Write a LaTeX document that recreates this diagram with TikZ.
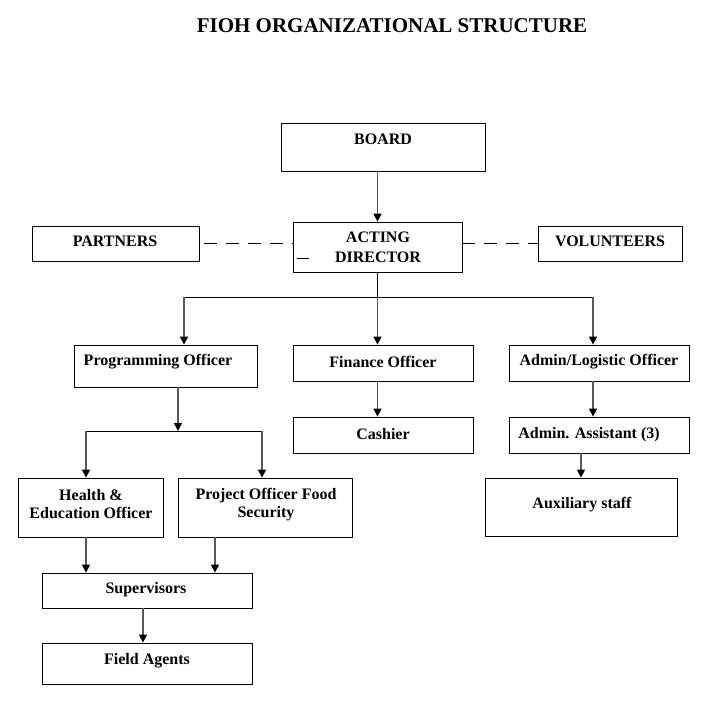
\documentclass[tikz,border=0pt]{standalone}
\usepackage{fontspec}
\setmainfont{Liberation Serif}
\usetikzlibrary{arrows.meta}
\tikzset{
  box/.style={draw, line width=0.8pt, inner sep=0pt},
  txt/.style={font=\bfseries\fontsize{16}{18}\selectfont, align=center, inner sep=0pt, yshift=-1.5pt},
  heading/.style={font=\bfseries\fontsize{21}{24}\selectfont, inner sep=0pt},
  wire/.style={line width=0.8pt},
  link/.style={draw=black!65, line width=1.5pt, -{Triangle[length=8pt,width=8pt,color=black]}},
  dashlink/.style={line width=0.8pt, dash pattern=on 13pt off 9pt}
}
\begin{document}
\begin{tikzpicture}[x=1pt,y=-1pt]
  \useasboundingbox (0,0) rectangle (718,704);
  \node[heading] (title) at (392,26) {FIOH ORGANIZATIONAL STRUCTURE};
  % boxes
  \node[box, minimum width=204, minimum height=48] (board) at (383,147) {};
  \node[box, minimum width=169, minimum height=50] (director) at (377.5,247) {};
  \node[box, minimum width=167, minimum height=35] (partners) at (115.5,243.5) {};
  \node[box, minimum width=144, minimum height=35] (volunteers) at (610,243.5) {};
  \node[box, minimum width=183, minimum height=42] (prog) at (165.5,366) {};
  \node[box, minimum width=180, minimum height=36] (finance) at (383,363) {};
  \node[box, minimum width=180, minimum height=36] (admin) at (599,363) {};
  \node[box, minimum width=180, minimum height=36] (cashier) at (383,435) {};
  \node[box, minimum width=180, minimum height=36] (assistant) at (599,435) {};
  \node[box, minimum width=192, minimum height=58] (auxiliary) at (581,507) {};
  \node[box, minimum width=145, minimum height=59] (health) at (90.5,507.5) {};
  \node[box, minimum width=174, minimum height=59] (project) at (265,507.5) {};
  \node[box, minimum width=210, minimum height=35] (supervisors) at (147,590.5) {};
  \node[box, minimum width=210, minimum height=41] (field) at (147,663.5) {};
  % texts
  \node[txt] (t-board) at (383,138) {BOARD};
  \node[txt] (t-director) at (378,246) {ACTING\\[2pt]DIRECTOR};
  \node[txt] (t-partners) at (115,240) {PARTNERS};
  \node[txt] (t-volunteers) at (610,240) {VOLUNTEERS};
  \node[txt] (t-prog) at (158,360) {Programming Officer};
  \node[txt] (t-finance) at (383,360) {Finance Officer};
  \node[txt] (t-admin) at (599,360) {Admin/Logistic Officer};
  \node[txt] (t-cashier) at (383,433) {Cashier};
  \node[txt] (t-assistant) at (589,433) {Admin. Assistant (3)};
  \node[txt] (t-auxiliary) at (582,503) {Auxiliary staff};
  \node[txt] (t-health) at (91,503) {Health \&\\Education Officer};
  \node[txt] (t-project) at (266,503) {Project Officer Food\\Security};
  \node[txt] (t-supervisors) at (146,588) {Supervisors};
  \node[txt] (t-field) at (147,659) {Field Agents};
  \draw[wire] ([shift={(4,11)}]director.west) -- ++(12,0);
  % branch points
  \coordinate (bus) at (377.5,297);
  \coordinate (busL) at (184,297);
  \coordinate (busR) at (593,297);
  \coordinate (split) at (178,431);
  \coordinate (splitL) at (86,431);
  \coordinate (splitR) at (262,431);
  % connectors
  \draw[link] (board.south -| director) -- (director.north);
  \draw[dashlink] ([xshift=5]partners.east) -- (partners.east -| director.west);
  \draw[dashlink] (director.east |- volunteers.west) -- (volunteers.west);
  \draw[wire] (director.south) -- (bus) (busL) -- (busR);
  \draw[link] (busL) -- (busL |- prog.north);
  \draw[link] (bus) -- (bus |- finance.north);
  \draw[link] (busR) -- (busR |- admin.north);
  \draw[link] (finance.south -| bus) -- (cashier.north -| bus);
  \draw[link] (admin.south -| busR) -- (assistant.north -| busR);
  \draw[link] (assistant.south -| auxiliary) -- (auxiliary.north);
  \draw[link] (prog.south -| split) -- (split);
  \draw[wire] (splitL) -- (splitR);
  \draw[link] (splitL) -- (splitL |- health.north);
  \draw[link] (splitR) -- (splitR |- project.north);
  \draw[link] (health.south -| splitL) -- (supervisors.north -| splitL);
  \draw[link] ([xshift=-50]project.south) -- ([xshift=-50]project.south |- supervisors.north);
  \draw[link] ([xshift=-4]supervisors.south) -- ([xshift=-4]field.north);
\end{tikzpicture}
\end{document}
